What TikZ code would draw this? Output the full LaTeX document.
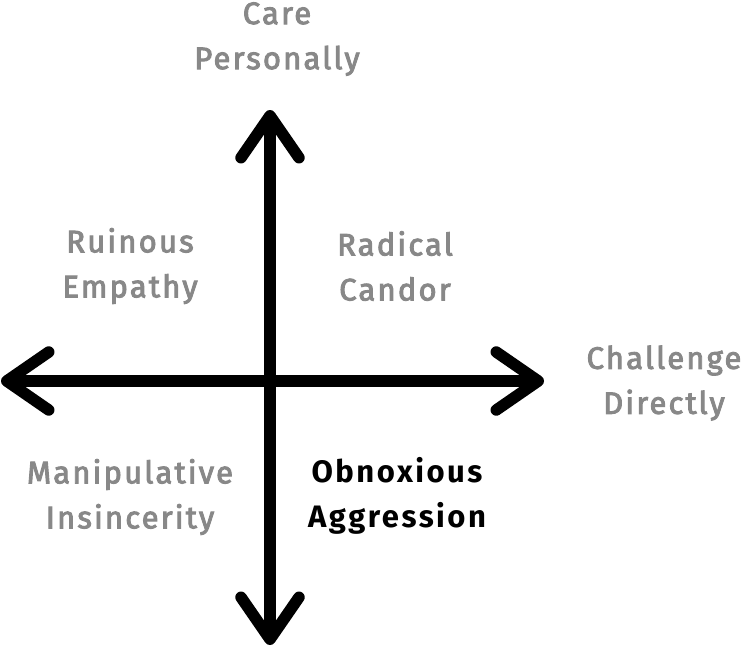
\documentclass[tikz,border=0pt]{standalone}
\usepackage{fontspec}
\setmainfont{Fira Sans}
\newfontfamily\quadfont[LetterSpace=7,FakeBold=3]{Fira Sans}
\newfontfamily\strongfont[LetterSpace=8]{Fira Sans}
\usepackage{tikz}
\usetikzlibrary{arrows.meta}

\definecolor{labelgray}{HTML}{888888}

\tikzset{
  axis/.style={line width=11.5pt, line cap=round,
    {Straight Barb[length=42pt,width=58pt,round]}-{Straight Barb[length=42pt,width=58pt,round]}},
  quad/.style={align=center, text=labelgray, font=\fontsize{31}{45}\quadfont},
  strong/.style={quad, text=black, font=\fontsize{31}{45}\strongfont\bfseries}
}

\begin{document}
\begin{tikzpicture}[x=1pt,y=-1pt]
  \useasboundingbox (0,0) rectangle (746,654);

  \coordinate (O) at (270,381);
  \coordinate (Top) at (270,110);
  \coordinate (Bot) at (270,645);
  \coordinate (Lft) at (1,381);
  \coordinate (Rgt) at (544,381);

  % the two axes
  \draw[axis] (Bot) -- (Top);
  \draw[axis] (Lft) -- (Rgt);

  \node[quad] (care) at (277,39) {Care\\Personally};
  \node[quad] (chall) at (664,383) {Challenge\\Directly};
  \node[quad] (ruin) at (130,266) {Ruinous\\Empathy};
  \node[quad] (rad) at (395,266) {Radical\\Candor};
  \node[quad] (manip) at (130,497) {Manipulative\\Insincerity};
  \node[strong] (obnox) at (397,496) {Obnoxious\\Aggression};
\end{tikzpicture}
\end{document}
